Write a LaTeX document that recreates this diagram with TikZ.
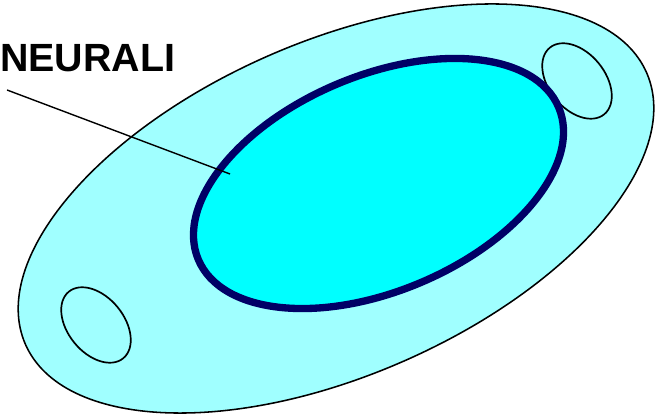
\documentclass[tikz,border=0pt]{standalone}
\usepackage{fontspec}
\setmainfont{Liberation Sans}
\usetikzlibrary{positioning}
\definecolor{paleCyan}{RGB}{160,255,255}
\definecolor{brightCyan}{RGB}{0,255,255}
\definecolor{navyRim}{RGB}{0,0,102}

\begin{document}
\begin{tikzpicture}[x=0.025cm, y=0.025cm,
	pocket/.style={draw=black, line width=1.2pt, fill=paleCyan}]
	\useasboundingbox (0,0) rectangle (655,418);
	
	% Outer body
	\draw[fill=paleCyan, line width=1.1pt] (336,209.5) ellipse [x radius=339, y radius=167, rotate=23.6];
	
	% Small pockets
	\draw[pocket] (577,337) ellipse [x radius=43, y radius=28, rotate=-50.8];
	\draw[pocket] (96,93) ellipse [x radius=43, y radius=28, rotate=-50.8];
	
	% Neural core
	\draw[fill=brightCyan, draw=navyRim, line width=5.2pt] (378.5,234.5) ellipse [x radius=195.6, y radius=107.7, rotate=22.9];
	
	% Label and pointer
	\node[font=\fontsize{28}{32}\selectfont\bfseries, anchor=west, inner sep=0pt] (neurali) at (0,360) {NEURALI};
	\coordinate (tail) at (7,328);
	\coordinate (tip) at (230,244);
	\draw[line width=1pt] (tail) -- (tip);
\end{tikzpicture}
\end{document}
